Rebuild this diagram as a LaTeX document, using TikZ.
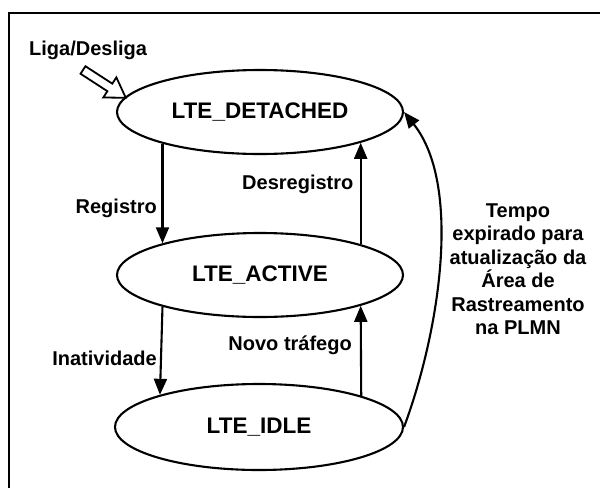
\documentclass[tikz,border=0pt]{standalone}
\usepackage{fontspec}
\setmainfont{Liberation Sans}
\usetikzlibrary{shapes.geometric,arrows.meta,calc}
\begin{document}
\begin{tikzpicture}[x=1pt,y=-1pt,
  state/.style={draw,ellipse,line width=2.1pt,minimum width=286pt,minimum height=84pt,inner sep=0pt,
    font=\fontsize{22.5}{26}\selectfont\bfseries},
  lbl/.style={font=\fontsize{20}{23.5}\selectfont\bfseries,inner sep=0pt},
  conn/.style={line width=2.1pt,-{Triangle[length=16pt,width=13pt]}}]
\useasboundingbox (0,0) rectangle (600,488);
\draw[line width=2.2pt] (9,488) -- (9,13) -- (600,13);
\node[state] (det) at (260,112) {LTE\_DETACHED};
\node[state] (act) at (260,275) {LTE\_ACTIVE};
\node[state,minimum width=288pt,minimum height=86pt] (idle) at (259,427) {LTE\_IDLE};
\node[lbl,anchor=west] (liga) at (29,50) {Liga/Desliga};
\node[lbl,anchor=east] (reg) at (157,208) {Registro};
\node[lbl,anchor=west] (desreg) at (242,184) {Desregistro};
\node[lbl,anchor=east] (inat) at (157,358) {Inatividade};
\node[lbl,anchor=east] (novo) at (352,345) {Novo tráfego};
\node[lbl,align=center] (tempo) at (518,269) {Tempo\\expirado para\\atualização da\\Área de\\Rastreamento\\na PLMN};
\draw[conn] (det.198) -- (act.162);
\draw[conn] (act.17) -- (det.-17);
\draw[conn] (act.198) -- (idle.162);
\draw[conn] (idle.17) -- (act.-17);
\draw[conn] (idle.east) .. controls (440,330) and (462,185) .. (det.east);
\coordinate (hatail) at (83,70);
\begin{scope}[shift={(hatail)},rotate=-33]
\draw[line width=1.8pt,fill=white,line join=miter] (0,4.5) -- (32,4.5) -- (32,12) -- (51,0) -- (32,-12) -- (32,-4.5) -- (0,-4.5) -- cycle;
\end{scope}
\end{tikzpicture}
\end{document}
